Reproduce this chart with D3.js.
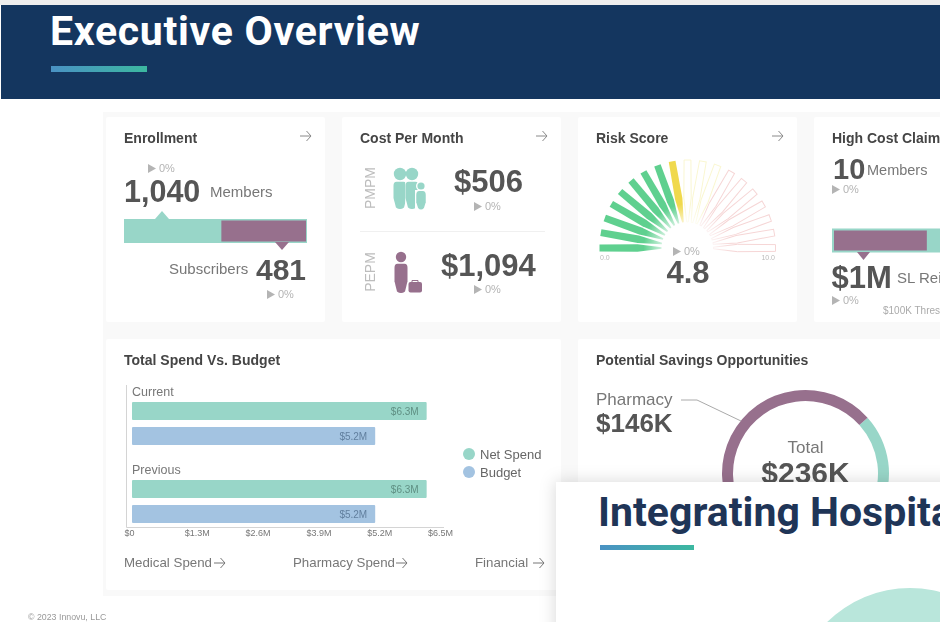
<!DOCTYPE html>
<html>
  <head>
    <meta charset="utf-8">
    <style>
      html, body { margin: 0; padding: 0; background: #fff; }
      svg { display: block; }
      text { font-family: "Liberation Sans", Arial, sans-serif; }
      .roboto { font-family: Roboto, sans-serif; font-weight: 700; }
      .axis text { font-family: "Liberation Sans", Arial, sans-serif; font-size: 9px; fill: #777; }
    </style>
  </head>
  <body>
    <script src="https://d3js.org/d3.v7.min.js"></script>
    <script>
      // enrollment
      const members = 1040;
      const subscribers = 481;

      // high cost claimants, $M
      const slReimbursed = 1;
      const highCostTotal = 1.93;

      // risk gauge
      const riskScore = 4.8;
      const gaugeTicks = [0, 0.56, 1.11, 1.67, 2.22, 2.78, 3.33, 3.89, 4.44, 5, 5.56, 6.11, 6.67, 7.22, 7.78, 8.33, 8.89, 9.44, 10];

      // spend vs budget, $M
      const periods = ['Current', 'Previous'];
      const spendSeries = ['Net Spend', 'Budget'];
      const netSpend = [6.3, 6.3];
      const budget = [5.2, 5.2];
      const spendTicks = [0, 1.3, 2.6, 3.9, 5.2, 6.5];
      const spendTickLabels = ['$0', '$1.3M', '$2.6M', '$3.9M', '$5.2M', '$6.5M'];

      // savings, $K
      const savingsNames = ['Medical', 'Pharmacy'];
      const savingsValues = [90, 146];

      const teal = '#98d6c8';
      const purple = '#976f8d';
      const blue = '#a3c3e1';
      const dark = '#555';
      const mid = '#777';

      const svg = d3.select('body').append('svg')
        .attr('width', 940)
        .attr('height', 622);

      const defs = svg.append('defs');

      defs.append('filter').attr('id', 'soft')
        .attr('filterUnits', 'userSpaceOnUse')
        .attr('x', 0).attr('y', 0).attr('width', 940).attr('height', 622)
        .append('feGaussianBlur').attr('stdDeviation', 0.55);

      const shadow = defs.append('filter').attr('id', 'panelShadow')
        .attr('x', '-15%').attr('y', '-15%').attr('width', '130%').attr('height', '130%');
      shadow.append('feDropShadow')
        .attr('dx', -1).attr('dy', -1).attr('stdDeviation', 8)
        .attr('flood-color', '#000').attr('flood-opacity', 0.14);

      const accent = defs.append('linearGradient').attr('id', 'accent');
      accent.append('stop').attr('offset', '0%').attr('stop-color', '#4a92c4');
      accent.append('stop').attr('offset', '100%').attr('stop-color', '#3cb8a0');

      // white haze over the inner end of the gauge bars
      const innerFade = defs.append('radialGradient').attr('id', 'innerFade');
      innerFade.append('stop').attr('offset', '55%').attr('stop-color', '#fff').attr('stop-opacity', 0.75);
      innerFade.append('stop').attr('offset', '100%').attr('stop-color', '#fff').attr('stop-opacity', 0);

      function label(parent, x, y, str, size, color, opts = {}) {
        return parent.append('text')
          .attr('x', x)
          .attr('y', y)
          .attr('font-size', size)
          .attr('font-weight', opts.weight || 400)
          .attr('text-anchor', opts.anchor || 'start')
          .attr('fill', color)
          .text(str);
      }

      function trend(parent, x, y) {
        parent.append('path')
          .attr('d', `M${x},${y - 8}L${x + 8},${y - 3.5}L${x},${y + 1}Z`)
          .attr('fill', '#b4b4b4');
        label(parent, x + 11, y, '0%', 11, '#b4b4b4');
      }

      function arrow(parent, x, y, color = '#8a8a8a') {
        parent.append('path')
          .attr('d', `M${x},${y}H${x + 11}M${x + 6.5},${y - 5}L${x + 11},${y}L${x + 6.5},${y + 5}`)
          .attr('fill', 'none')
          .attr('stroke', color)
          .attr('stroke-width', 1);
      }

      function person(parent, cx, headY, headR, bodyW, bodyBottom, color) {
        parent.append('circle').attr('cx', cx).attr('cy', headY).attr('r', headR).attr('fill', color);
        const top = headY + headR + 1.5;
        const w = bodyW / 2;
        const h = bodyBottom - top;
        parent.append('path')
          .attr('d', `M${cx - w + 3},${top}H${cx + w - 3}Q${cx + w},${top} ${cx + w},${top + 4}`
            + `L${cx + w},${top + h * 0.6}L${cx + w * 0.62},${bodyBottom - 1.5}`
            + `Q${cx},${bodyBottom + 1.5} ${cx - w * 0.62},${bodyBottom - 1.5}`
            + `L${cx - w},${top + h * 0.6}L${cx - w},${top + 4}Q${cx - w},${top} ${cx - w + 3},${top}Z`)
          .attr('fill', color);
      }

      // page background and dark header
      svg.append('rect').attr('width', 940).attr('height', 622).attr('fill', '#fff');
      svg.append('rect').attr('width', 940).attr('height', 5).attr('fill', '#eeeeee');
      svg.append('rect').attr('x', 103).attr('y', 112).attr('width', 837).attr('height', 484).attr('fill', '#f9f9f9');
      svg.append('rect').attr('x', 1).attr('y', 5).attr('width', 939).attr('height', 94).attr('fill', '#14365f');
      label(svg, 50, 45, 'Executive Overview', 41, '#fff')
        .attr('class', 'roboto')
        .style('letter-spacing', '0.7px');
      svg.append('rect').attr('x', 51).attr('y', 66).attr('width', 96).attr('height', 6).attr('fill', 'url(#accent)');

      const board = svg.append('g').attr('filter', 'url(#soft)');

      const cards = [
        [106, 117, 219, 205], [342, 117, 219, 205], [578, 117, 219, 205], [814, 117, 160, 205],
        [106, 339, 455, 251], [578, 339, 400, 251]
      ];
      board.selectAll('rect.card')
        .data(cards)
        .join('rect')
        .attr('class', 'card')
        .attr('x', d => d[0])
        .attr('y', d => d[1])
        .attr('width', d => d[2])
        .attr('height', d => d[3])
        .attr('rx', 2)
        .attr('fill', '#fff');

      const titleColor = '#444';
      label(board, 124, 143, 'Enrollment', 14, titleColor, { weight: 700 });
      label(board, 360, 143, 'Cost Per Month', 14, titleColor, { weight: 700 });
      label(board, 596, 143, 'Risk Score', 14, titleColor, { weight: 700 });
      label(board, 832, 143, 'High Cost Claimants', 14, titleColor, { weight: 700 });
      label(board, 124, 365, 'Total Spend Vs. Budget', 14, titleColor, { weight: 700 });
      label(board, 596, 365, 'Potential Savings Opportunities', 14, titleColor, { weight: 700 });
      arrow(board, 300, 136);
      arrow(board, 536, 136);
      arrow(board, 772, 136);

      // enrollment card
      const enrollX = d3.scaleLinear().domain([0, members]).range([124, 307]);
      board.append('rect')
        .attr('x', enrollX(0)).attr('y', 219)
        .attr('width', enrollX(members) - enrollX(0)).attr('height', 24)
        .attr('fill', teal);
      board.append('rect')
        .attr('x', enrollX(members - subscribers) - 1).attr('y', 220.5)
        .attr('width', enrollX(subscribers) - enrollX(0)).attr('height', 21)
        .attr('fill', purple);
      board.append('path').attr('d', 'M155,219L162,211L169,219Z').attr('fill', teal);
      board.append('path').attr('d', 'M275,242L282,250L289,242Z').attr('fill', purple);
      trend(board, 148, 172);
      label(board, 124, 202, d3.format(',')(members), 30.5, dark, { weight: 700 });
      label(board, 210, 197, 'Members', 15, mid);
      label(board, 169, 274, 'Subscribers', 15, mid);
      label(board, 256, 280, subscribers, 30, dark, { weight: 700 });
      trend(board, 267, 298);

      // cost per month card
      label(board, 0, 0, 'PMPM', 14, '#bdbdbd', { anchor: 'middle' })
        .attr('transform', 'translate(375,188) rotate(-90)');
      label(board, 0, 0, 'PEPM', 14, '#bdbdbd', { anchor: 'middle' })
        .attr('transform', 'translate(375,272) rotate(-90)');
      board.append('line')
        .attr('x1', 360).attr('x2', 545).attr('y1', 231.5).attr('y2', 231.5)
        .attr('stroke', '#f0f0f0');
      person(board, 400, 174, 6.2, 13, 209, teal);
      board.append('rect').attr('x', 405.2).attr('y', 181).attr('width', 1).attr('height', 29).attr('fill', '#fff');
      person(board, 412, 174, 6.2, 13, 209, teal);
      board.append('circle').attr('cx', 421).attr('cy', 186).attr('r', 5).attr('fill', '#fff');
      board.append('rect').attr('x', 415).attr('y', 190).attr('width', 12).attr('height', 20).attr('fill', '#fff');
      person(board, 421, 186, 3.6, 9.5, 209.5, teal);
      person(board, 401, 257, 5.2, 13, 293, purple);
      board.append('path').attr('d', 'M412,282V280.5H418V282').attr('fill', 'none').attr('stroke', purple);
      board.append('rect').attr('x', 408.5).attr('y', 282).attr('width', 13.5).attr('height', 10.5).attr('rx', 2).attr('fill', purple);
      label(board, 454, 192, '$506', 31, dark, { weight: 700 });
      label(board, 441, 276, '$1,094', 31, dark, { weight: 700 });
      trend(board, 474, 210);
      trend(board, 474, 293);

      // risk gauge, each bar is a wedge turned to its tick
      const gaugeAngle = d3.scaleLinear().domain([0, 10]).range([-90, 90]);
      const gaugeBar = 'M-0.8,-26L-3.7,-50L-3.4,-88L3.4,-88L3.7,-50L0.8,-26Z';
      board.append('g')
        .attr('transform', 'translate(687.5,248)')
        .selectAll('path')
        .data(gaugeTicks)
        .join('path')
        .attr('d', gaugeBar)
        .attr('transform', d => `rotate(${gaugeAngle(d)})`)
        .attr('fill', d => {
          if (d > riskScore) return '#fff';
          return d < 4.4 ? '#5fd08f' : '#f0d94e';
        })
        .attr('stroke', d => {
          if (d <= riskScore) return 'none';
          return d < 6.2 ? '#faf7d2' : '#f6d6d6';
        })
        .attr('stroke-width', 1);
      board.append('circle')
        .attr('cx', 687.5).attr('cy', 248).attr('r', 44)
        .attr('fill', 'url(#innerFade)');
      label(board, 600, 260, '0.0', 7, '#bbb');
      label(board, 775, 260, '10.0', 7, '#bbb', { anchor: 'end' });
      trend(board, 673, 255);
      label(board, 688, 283, riskScore.toFixed(1), 31, dark, { weight: 700, anchor: 'middle' });

      // high cost claimants card
      const highX = d3.scaleLinear().domain([0, highCostTotal]).range([832, 1015]);
      board.append('rect')
        .attr('x', highX(0)).attr('y', 228.5)
        .attr('width', highX(highCostTotal) - highX(0)).attr('height', 24)
        .attr('fill', teal);
      board.append('rect')
        .attr('x', highX(0) + 2).attr('y', 230.5)
        .attr('width', highX(slReimbursed) - highX(0) - 2).attr('height', 20)
        .attr('fill', purple);
      board.append('path').attr('d', 'M857,252L863.5,260L870,252Z').attr('fill', purple);
      label(board, 833, 179, '10', 29, dark, { weight: 700 });
      label(board, 867, 175, 'Members', 14.5, mid);
      trend(board, 832, 193);
      label(board, 831.5, 288, '$1M', 31, dark, { weight: 700 });
      label(board, 897, 283, 'SL Reimbursed', 15, mid);
      trend(board, 832, 304);
      label(board, 883, 314, '$100K Threshold', 10, '#aaa');

      // spend vs budget bars
      const xScale = d3.scaleLinear().domain([0, 6.5]).range([132, 436]);
      const groupScale = d3.scaleBand().domain(periods).range([385, 541]);
      const seriesScale = d3.scaleBand().domain(spendSeries).range([17, 60]).paddingInner(0.28);
      const colorScale = d3.scaleOrdinal().domain(spendSeries).range([teal, blue]);
      const spendRows = periods.flatMap((period, i) => [
        { period, series: spendSeries[0], value: netSpend[i] },
        { period, series: spendSeries[1], value: budget[i] }
      ]);

      board.append('path')
        .attr('d', 'M126.5,385V527.5H444')
        .attr('fill', 'none')
        .attr('stroke', '#d4d4d4');

      board.append('g')
        .selectAll('rect')
        .data(spendRows)
        .join('rect')
        .attr('x', xScale(0))
        .attr('y', d => groupScale(d.period) + seriesScale(d.series))
        .attr('width', d => xScale(d.value) - xScale(0))
        .attr('height', seriesScale.bandwidth())
        .attr('rx', 1)
        .attr('fill', d => colorScale(d.series));

      board.append('g')
        .selectAll('text')
        .data(spendRows)
        .join('text')
        .attr('x', d => xScale(d.value) - 8)
        .attr('y', d => groupScale(d.period) + seriesScale(d.series) + 13)
        .attr('text-anchor', 'end')
        .attr('font-size', 10)
        .attr('fill', d => d.series === spendSeries[0] ? '#5f8f83' : '#617f9e')
        .text(d => `$${d.value}M`);

      board.append('g')
        .selectAll('text')
        .data(periods)
        .join('text')
        .attr('x', 132)
        .attr('y', d => groupScale(d) + 10.5)
        .attr('font-size', 12.5)
        .attr('fill', mid)
        .text(d => d);

      const xAxis = d3.axisBottom(xScale)
        .tickValues(spendTicks)
        .tickFormat((d, i) => spendTickLabels[i])
        .tickSize(0)
        .tickPadding(3);
      const axisG = board.append('g')
        .attr('class', 'axis')
        .attr('transform', 'translate(0,527)')
        .call(xAxis);
      axisG.select('.domain').remove();
      axisG.selectAll('text').attr('dx', (d, i) => i === 0 ? -3 : 4);

      const legend = board.append('g')
        .selectAll('g')
        .data(spendSeries)
        .join('g')
        .attr('transform', (d, i) => `translate(469,${454 + i * 18})`);
      legend.append('circle').attr('r', 6).attr('fill', d => colorScale(d));
      legend.append('text')
        .attr('x', 11)
        .attr('y', 5)
        .attr('font-size', 13)
        .attr('fill', '#666')
        .text(d => d);

      label(board, 124, 567, 'Medical Spend', 13.3, mid);
      arrow(board, 214, 563, mid);
      label(board, 293, 567, 'Pharmacy Spend', 13.3, mid);
      arrow(board, 396, 563, mid);
      label(board, 475, 567, 'Financial', 13.3, mid);
      arrow(board, 533, 563, mid);

      // savings donut
      const startDeg = 48;
      const pie = d3.pie().sort(null)
        .startAngle(startDeg * Math.PI / 180)
        .endAngle((startDeg + 360) * Math.PI / 180);
      const donutArc = d3.arc().innerRadius(72.5).outerRadius(83.5);
      const donutColor = d3.scaleOrdinal().domain(savingsNames).range([teal, purple]);
      board.append('g')
        .attr('transform', 'translate(805.5,473.5)')
        .selectAll('path')
        .data(pie(savingsValues))
        .join('path')
        .attr('d', donutArc)
        .attr('fill', (d, i) => donutColor(savingsNames[i]));
      board.append('path')
        .attr('d', 'M681,400H697L741,421')
        .attr('fill', 'none')
        .attr('stroke', '#aaa');
      label(board, 596, 405, 'Pharmacy', 17, mid);
      label(board, 596, 432, `$${savingsValues[1]}K`, 26, dark, { weight: 700 });
      label(board, 805.5, 453, 'Total', 17, mid, { anchor: 'middle' });
      label(board, 805.5, 483, `$${d3.sum(savingsValues)}K`, 30, dark, { weight: 700, anchor: 'middle' });

      label(board, 28, 620, '© 2023 Innovu, LLC', 8.8, '#999');

      // overlapping slide
      svg.append('rect')
        .attr('x', 556).attr('y', 482).attr('width', 420).attr('height', 180)
        .attr('fill', '#fff')
        .attr('filter', 'url(#panelShadow)');
      svg.append('circle').attr('cx', 910).attr('cy', 706).attr('r', 118).attr('fill', '#b9e6db');
      label(svg, 598, 526, 'Integrating Hospital', 41, '#1f3557').attr('class', 'roboto');
      svg.append('rect').attr('x', 600).attr('y', 545).attr('width', 94).attr('height', 5).attr('fill', 'url(#accent)');
    </script>
  </body>
</html>
